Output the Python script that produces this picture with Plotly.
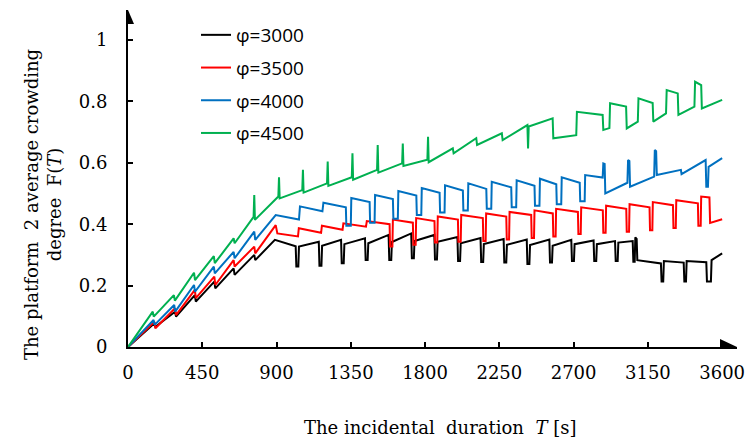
import plotly.graph_objects as go

# ---------------- data ----------------
T_TICKS = [0, 450, 900, 1350, 1800, 2250, 2700, 3150, 3600]
Y_TICKS = [0, 0.2, 0.4, 0.6, 0.8, 1.0]
Y_TICK_TEXT = ["0", "0.2", "0.4", "0.6", "0.8", "1"]
SERIES_NAMES = ["φ=3000", "φ=3500", "φ=4000", "φ=4500"]

# (T [s], F(T)) points
black_pts = [
    (0, 0), (160, 0.077), (166, 0.066), (285, 0.115), (291, 0.099), (405, 0.169), (411, 0.148),
    (523, 0.213), (529, 0.191), (640, 0.256), (646, 0.235), (765, 0.300), (771, 0.283), (890, 0.349),
    (1016, 0.328), (1020, 0.262), (1032, 0.262), (1036, 0.327),
    (1156, 0.343), (1160, 0.265), (1172, 0.265), (1176, 0.330),
    (1291, 0.349), (1295, 0.273), (1307, 0.273), (1311, 0.335),
    (1436, 0.354), (1440, 0.283), (1452, 0.283), (1456, 0.338),
    (1579, 0.365), (1583, 0.283), (1595, 0.283), (1599, 0.342),
    (1716, 0.370), (1720, 0.289), (1732, 0.289), (1736, 0.345),
    (1856, 0.365), (1860, 0.285), (1872, 0.285), (1876, 0.343),
    (1996, 0.358), (2000, 0.280), (2012, 0.280), (2016, 0.338),
    (2136, 0.355), (2140, 0.277), (2152, 0.277), (2156, 0.335),
    (2276, 0.352), (2280, 0.275), (2292, 0.275), (2296, 0.333),
    (2416, 0.350), (2420, 0.270), (2432, 0.270), (2436, 0.332),
    (2553, 0.350), (2557, 0.275), (2569, 0.275), (2573, 0.330),
    (2686, 0.349), (2690, 0.280), (2702, 0.280), (2706, 0.335),
    (2821, 0.347), (2825, 0.280), (2837, 0.280), (2841, 0.335),
    (2951, 0.345), (2955, 0.280), (2967, 0.280), (2971, 0.340),
    (3058, 0.345), (3062, 0.278), (3070, 0.278), (3074, 0.357), (3082, 0.352), (3086, 0.283),
    (3229, 0.272), (3233, 0.213), (3243, 0.213), (3247, 0.280),
    (3367, 0.275), (3371, 0.213), (3381, 0.213), (3385, 0.280),
    (3504, 0.276), (3508, 0.213), (3532, 0.213), (3536, 0.283), (3600, 0.305),
]

red_pts = [
    (0, 0), (160, 0.082), (166, 0.061), (285, 0.126), (291, 0.104), (405, 0.186), (411, 0.159),
    (523, 0.229), (529, 0.202), (640, 0.283), (646, 0.262), (765, 0.327), (771, 0.305), (895, 0.397),
    (905, 0.370), (1030, 0.360), (1035, 0.387), (1170, 0.372), (1175, 0.395), (1300, 0.382),
    (1305, 0.403), (1442, 0.392), (1447, 0.410),
    (1585, 0.400), (1588, 0.327), (1602, 0.327), (1605, 0.415),
    (1726, 0.405), (1729, 0.333), (1743, 0.333), (1746, 0.420),
    (1857, 0.410), (1860, 0.340), (1874, 0.340), (1877, 0.425),
    (1999, 0.415), (2002, 0.343), (2016, 0.343), (2019, 0.430),
    (2150, 0.420), (2153, 0.345), (2167, 0.345), (2170, 0.435),
    (2292, 0.425), (2295, 0.350), (2309, 0.350), (2312, 0.440),
    (2443, 0.430), (2446, 0.355), (2460, 0.355), (2463, 0.445),
    (2574, 0.435), (2577, 0.360), (2591, 0.360), (2594, 0.450),
    (2726, 0.440), (2729, 0.368), (2743, 0.368), (2746, 0.455),
    (2877, 0.445), (2880, 0.372), (2894, 0.372), (2897, 0.460),
    (3019, 0.450), (3022, 0.375), (3036, 0.375), (3039, 0.465),
    (3160, 0.455), (3163, 0.380), (3177, 0.380), (3180, 0.472),
    (3302, 0.462), (3305, 0.388), (3319, 0.388), (3322, 0.478),
    (3453, 0.468), (3456, 0.395), (3470, 0.395), (3473, 0.490),
    (3523, 0.487), (3527, 0.404), (3600, 0.416),
]

blue_pts = [
    (0, 0), (155, 0.088), (161, 0.072), (280, 0.137), (286, 0.115), (400, 0.202), (406, 0.180),
    (520, 0.262), (526, 0.240), (640, 0.310), (646, 0.289), (765, 0.376), (771, 0.349), (895, 0.430),
    (1036, 0.415), (1042, 0.458), (1178, 0.442), (1184, 0.470), (1320, 0.455),
    (1323, 0.395), (1350, 0.395), (1353, 0.485),
    (1464, 0.472), (1467, 0.405), (1494, 0.405), (1497, 0.495),
    (1605, 0.482), (1608, 0.418), (1635, 0.418), (1638, 0.508),
    (1747, 0.493), (1750, 0.430), (1777, 0.430), (1780, 0.518),
    (1888, 0.502), (1891, 0.438), (1918, 0.438), (1921, 0.527),
    (2029, 0.510), (2032, 0.445), (2059, 0.445), (2062, 0.533),
    (2171, 0.515), (2174, 0.450), (2201, 0.450), (2204, 0.538),
    (2322, 0.520), (2325, 0.455), (2352, 0.455), (2355, 0.543),
    (2463, 0.525), (2466, 0.460), (2493, 0.460), (2496, 0.548),
    (2595, 0.530), (2598, 0.465), (2625, 0.465), (2628, 0.553),
    (2737, 0.535), (2740, 0.475), (2767, 0.475), (2770, 0.560),
    (2876, 0.552), (2880, 0.598), (2888, 0.596), (2892, 0.500),
    (3026, 0.535), (3030, 0.609), (3038, 0.606), (3042, 0.522),
    (3188, 0.555), (3192, 0.642), (3200, 0.638), (3204, 0.560),
    (3350, 0.577), (3354, 0.563), (3500, 0.609), (3504, 0.522), (3514, 0.522), (3518, 0.587),
    (3600, 0.615),
]

green_pts = [
    (0, 0), (150, 0.115), (156, 0.099), (278, 0.169), (284, 0.151), (400, 0.242), (406, 0.218),
    (520, 0.296), (526, 0.273), (640, 0.354), (646, 0.338), (761, 0.424), (765, 0.495), (769, 0.414),
    (911, 0.490), (915, 0.553), (919, 0.484),
    (1056, 0.511), (1060, 0.577), (1064, 0.503),
    (1206, 0.533), (1210, 0.604), (1214, 0.525),
    (1356, 0.553), (1360, 0.631), (1364, 0.545),
    (1509, 0.577), (1513, 0.658), (1517, 0.568),
    (1661, 0.598), (1665, 0.663), (1669, 0.590),
    (1814, 0.610), (1818, 0.685), (1822, 0.602),
    (1968, 0.647), (1973, 0.631),
    (2110, 0.680), (2115, 0.658),
    (2265, 0.696), (2270, 0.674),
    (2420, 0.723), (2424, 0.647), (2428, 0.718),
    (2573, 0.745), (2577, 0.680), (2716, 0.690), (2720, 0.766),
    (2876, 0.756), (2880, 0.707), (2917, 0.713), (2921, 0.794),
    (3018, 0.783), (3022, 0.712), (3089, 0.734), (3093, 0.810),
    (3179, 0.795), (3183, 0.734), (3260, 0.761), (3264, 0.837),
    (3331, 0.826), (3335, 0.756), (3432, 0.783), (3436, 0.864),
    (3473, 0.853), (3477, 0.777), (3600, 0.805),
]

SERIES_POINTS = [black_pts, red_pts, blue_pts, green_pts]
SERIES_COLORS = ["#000000", "#ff0000", "#0070c0", "#00b050"]

# ---------------- figure ----------------
W, H = 749, 438
ML, MR, MT, MB = 128, 12, 10, 91
X_MAX = 3690
Y_MAX = 1.0977
SERIF = "DejaVu Serif"

fig = go.Figure()
for name, pts, color in zip(SERIES_NAMES, SERIES_POINTS, SERIES_COLORS):
    fig.add_trace(go.Scatter(
        x=[p[0] for p in pts], y=[p[1] for p in pts],
        mode="lines", name=name, legendgroup=name,
        line=dict(color=color, width=2),
    ))

axis_common = dict(
    showgrid=False, zeroline=False, showline=True, linecolor="black", linewidth=2,
    ticks="inside", ticklen=5, tickwidth=1.5, tickcolor="black", automargin=False,
    tickfont=dict(family=SERIF, size=18, color="black"),
)
fig.update_xaxes(range=[0, X_MAX], tickvals=T_TICKS, ticklabelstandoff=8, **axis_common)
fig.update_yaxes(range=[0, Y_MAX], tickvals=Y_TICKS, ticktext=Y_TICK_TEXT,
                 ticklabelstandoff=15, **axis_common)

pw = W - ML - MR
ph = H - MT - MB

def px_x(p):
    return (p - ML) / pw

def px_y(p):
    return (H - MB - p) / ph

fig.update_layout(
    width=W, height=H,
    margin=dict(l=ML, r=MR, t=MT, b=MB, pad=0, autoexpand=False),
    paper_bgcolor="white", plot_bgcolor="white",
    showlegend=True,
    legend=dict(
        x=px_x(196), y=px_y(16), xanchor="left", yanchor="top",
        font=dict(family="Open Sans", size=19, color="black"),
        bgcolor="rgba(0,0,0,0)", tracegroupgap=5, itemwidth=30,
    ),
    shapes=[
        dict(type="path", xref="x", yref="y", xsizemode="pixel", ysizemode="pixel",
             xanchor=X_MAX, yanchor=0, path="M -17,-8 L 0,0 L -17,8 Z",
             fillcolor="black", line=dict(width=0), layer="above"),
        dict(type="path", xref="x", yref="y", xsizemode="pixel", ysizemode="pixel",
             xanchor=0, yanchor=Y_MAX, path="M -6,-14 L 0,0 L 6,-14 Z",
             fillcolor="black", line=dict(width=0), layer="above"),
    ],
    annotations=[
        dict(text="The incidental\u00a0\u00a0duration\u00a0\u00a0<i>T</i>\u00a0[s]",
             xref="paper", yref="paper", x=px_x(440), y=px_y(427),
             xanchor="center", yanchor="middle", showarrow=False,
             font=dict(family=SERIF, size=18, color="black")),
        dict(text="The platform\u00a0\u00a02 average crowding<br>degree\u00a0\u00a0F(<i>T</i>)",
             xref="paper", yref="paper", x=px_x(43), y=px_y(205),
             xanchor="center", yanchor="middle", showarrow=False, textangle=-90,
             font=dict(family=SERIF, size=18, color="black")),
    ],
)

# remove the default 8px page margin so the figure fills the window exactly
fig.write_html("out.html", config={"displayModeBar": False},
               post_script="document.body.style.margin='0';")
